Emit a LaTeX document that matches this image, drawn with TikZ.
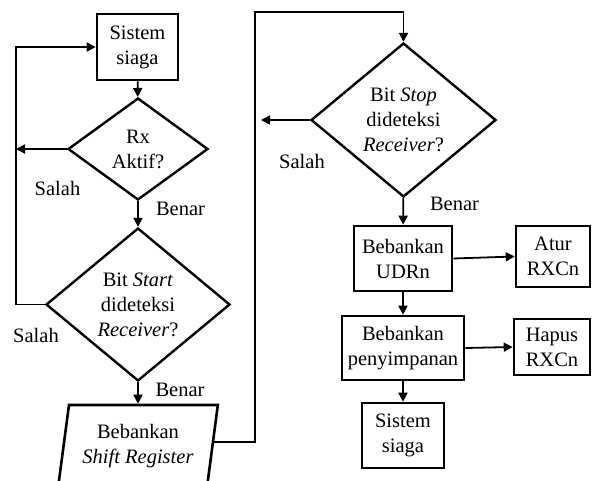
\documentclass[tikz,border=0pt]{standalone}
\usepackage{fontspec}
\setmainfont{Liberation Serif}
\usetikzlibrary{shapes.geometric,arrows.meta,calc}
\begin{document}
\begin{tikzpicture}[x=1pt,y=1pt,
  txt/.style={font=\fontsize{20.5}{25}\selectfont, align=center, inner sep=0pt},
  procbox/.style={draw, line width=2.6pt, rectangle, inner sep=0pt, txt},
  dec/.style={draw, line width=2.4pt, diamond, inner sep=0pt},
  io/.style={draw, line width=2.6pt, trapezium, trapezium left angle=78.7, trapezium right angle=101.3, trapezium stretches=true, inner sep=0pt, txt},
  conn/.style={line width=1.8pt, -{Triangle[length=9pt,width=9pt]}},
  lbl/.style={font=\fontsize{20.5}{25}\selectfont, inner sep=0pt, anchor=base}
]
\useasboundingbox (0,0) rectangle (592,-480);

% left column
\node[procbox, minimum width=81pt, minimum height=66pt] (s1) at (137.5,-47) {Sistem\\siaga};
\node[dec, minimum width=140pt, minimum height=102pt] (d1) at (138,-149) {};
\node[txt] (d1t) at (d1) {Rx\\Aktif?};
\node[dec, minimum width=184pt, minimum height=153pt] (d2) at (138,-304.5) {};
\node[txt] (d2t) at (d2) {Bit \textit{Start}\\dideteksi\\\textit{Receiver}?};
\node[io, minimum width=160pt, minimum height=82pt] (p) at (138,-446) {Bebankan\\\textit{Shift Register}};

% right column
\node[dec, minimum width=185pt, minimum height=154pt] (d3) at (403.5,-120) {};
\node[txt] (d3t) at (d3) {Bit \textit{Stop}\\dideteksi\\\textit{Receiver}?};
\node[procbox, minimum width=98pt, minimum height=65pt] (u) at (403,-258.5) {Bebankan\\UDRn};
\node[procbox, minimum width=74pt, minimum height=61pt] (a) at (553,-256.5) {Atur\\RXCn};
\node[procbox, minimum width=122pt, minimum height=64pt] (b) at (403,-348) {Bebankan\\penyimpanan};
\node[procbox, minimum width=76pt, minimum height=56pt] (h) at (552,-347) {Hapus\\RXCn};
\node[procbox, minimum width=82pt, minimum height=65pt] (s2) at (403,-435.5) {Sistem\\siaga};

% coordinates
\coordinate (lx) at (16,-47);
\coordinate (c1) at (255,-12);
\coordinate (d3s) at (261,-120);
\coordinate (pe) at ($(p.top right corner)!0.45!(p.bottom right corner)$);

% connectors left
\draw[conn] (s1) -- (d1);
\draw[conn] (d1.west) -- (d1.west -| lx);
\draw[conn] (d1) -- (d2);
\draw[conn] (d2.west) -| (lx) -- (s1.west);
\draw[conn] (d2.south) -- (p.north -| d2.south);

% connectors right
\draw[conn] (pe) -| (c1) -| (d3.north);
\draw[conn] (d3.west) -- (d3s);
\draw[conn] (d3) -- (u);
\draw[conn] (u.east) -- (a.west);
\draw[conn] (u) -- (b);
\draw[conn] (b.east) -- (h.west);
\draw[conn] (b) -- (s2);

% labels
\node[lbl] (l1) at (57.5,-195) {Salah};
\node[lbl] (l2) at (180.5,-215) {Benar};
\node[lbl] (l3) at (36,-342.5) {Salah};
\node[lbl] (l4) at (180,-396) {Benar};
\node[lbl] (l5) at (302,-168) {Salah};
\node[lbl] (l6) at (454.5,-210.5) {Benar};
\end{tikzpicture}
\end{document}
